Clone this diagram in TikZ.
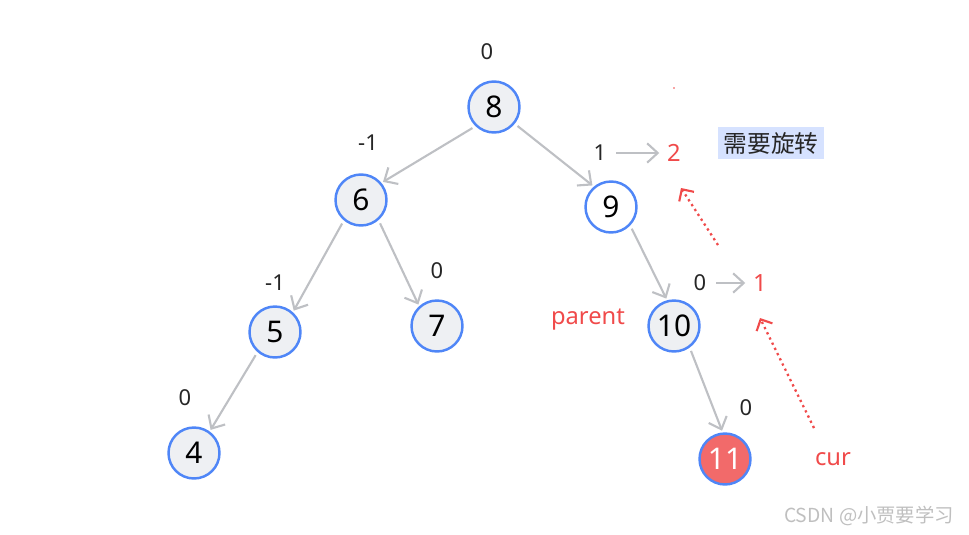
\documentclass[tikz,border=0pt]{standalone}
\usepackage{fontspec}
\setmainfont{Noto Sans}
\newfontfamily\cjk{Noto Sans CJK SC}
\usepackage{tikz}
\usetikzlibrary{arrows.meta}

\definecolor{ringblue}{HTML}{4F86F7}
\definecolor{nodegray}{HTML}{EEF0F3}
\definecolor{edgegray}{HTML}{BEC0C4}
\definecolor{hotred}{HTML}{F26A6A}
\definecolor{textred}{HTML}{F04A4A}
\definecolor{tagblue}{HTML}{D6E2FF}

\tikzset{
  avl/.style={circle, draw=ringblue, line width=1.4pt, fill=nodegray, minimum size=1.02cm, inner sep=0pt, font=\fontsize{17}{19}\selectfont},
  bf/.style={font=\fontsize{12.5}{14}\selectfont, text=black!85},
  redtxt/.style={font=\fontsize{13.5}{15}\selectfont, text=textred},
  edge/.style={draw=edgegray, line width=1.2pt, shorten <=2pt, shorten >=1pt, -{Straight Barb[length=6pt, width=11pt, line width=1.2pt]}},
  hint/.style={draw=textred, line width=1.3pt, dotted, -{Straight Barb[length=5pt, width=10pt, line width=1.2pt]}}
}

\begin{document}
\begin{tikzpicture}[x=0.02cm, y=-0.02cm]
\useasboundingbox (0,0) rectangle (969,534);

% tree
\node [avl] (n8) at (494,107) {8};
\node [avl] (n6) at (361,200) {6};
\node [avl, fill=white] (n9) at (611,207) {9};
\node [avl] (n5) at (275,332) {5};
\node [avl] (n7) at (437,326) {7};
\node [avl] (n10) at (674,326) {10};
\node [avl] (n4) at (194,453) {4};
\node [avl, fill=hotred, text=white] (n11) at (725,459) {11};

\draw [edge] (n8.-134) -- (n6.40);
\draw [edge] (n8.-39) -- (n9.130);
\draw [edge] (n6.-130) -- (n5.48);
\draw [edge] (n6.-49) -- (n7.132);
\draw [edge] (n9.-44) -- (n10.105);
\draw [edge] (n5.-131) -- (n4.54);
\draw [edge] (n10.-54) -- (n11.95);

% balance factors
\node [bf] (b8) at (487,52) {0};
\node [bf] (b6) at (368,143) {-1};
\node [bf] (b9) at (600,153) {1};
\node [bf] (b5) at (275,283) {-1};
\node [bf] (b7) at (437,271) {0};
\node [bf] (b10) at (700,283) {0};
\node [bf] (b4) at (185,398) {0};
\node [bf] (b11) at (746,408) {0};

% updated factors
\node [redtxt] (u9) at (674,153) {2};
\node [redtxt] (u10) at (760,283) {1};
\draw [edge] (b9) -- (u9);
\draw [edge] (b10) -- (u10);

\node [redtxt] (par) at (588,320) {parent};
\node [redtxt] (cur) at (833,459) {cur};
\coordinate (hintA) at (718,245);
\coordinate (tipA) at (681,188);
\coordinate (hintB) at (814,428);
\coordinate (tipB) at (760,318);
\draw [hint] (hintA) -- (tipA);
\draw [hint] (hintB) -- (tipB);
\fill [textred] (674,88) circle (0.9);

\node [fill=tagblue, inner sep=3pt, font=\fontsize{13.5}{15}\selectfont\cjk, text=black!85] (rot) at (771,143) {需要旋转};

% watermark
\node [font=\fontsize{11}{13}\selectfont\cjk, text=black!25] (wm) at (869,516) {CSDN @小贾要学习};
\end{tikzpicture}
\end{document}
